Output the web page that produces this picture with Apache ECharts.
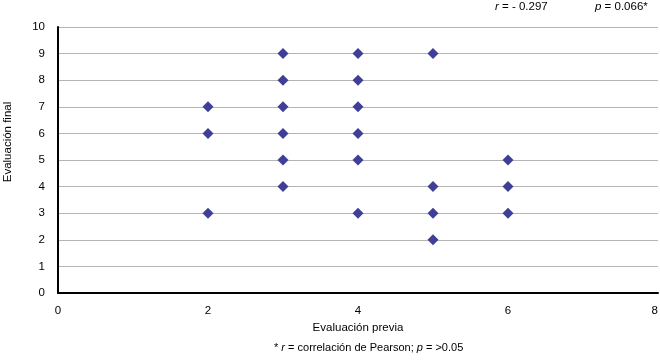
<!DOCTYPE html>
<html><head><meta charset="utf-8">
<script src="https://cdn.jsdelivr.net/npm/echarts@6/dist/echarts.min.js"></script>
<style>html,body{margin:0;padding:0;background:#fff}#c{width:660px;height:361px}</style>
</head><body><div id="c"></div>
<script>
var xValues = [2,2,2, 3,3,3,3,3,3, 4,4,4,4,4,4, 5,5,5,5, 6,6,6];
var yValues = [7,6,3, 9,8,7,6,5,4, 9,8,7,6,5,3, 9,4,3,2, 5,4,3];
var xTicks = [0,2,4,6,8];
var yTicks = [0,1,2,3,4,5,6,7,8,9,10];
var xName = 'Evaluación previa';
var yName = 'Evaluación final';

var pts = xValues.map(function(x,i){return [x,yValues[i]];});
var F = 'Liberation Sans, Arial, sans-serif';
var chart = echarts.init(document.getElementById('c'));
chart.setOption({
  animation:false,
  grid:{left:58,right:2,top:27,bottom:68,containLabel:false,outerBoundsMode:'none'},
  xAxis:{type:'value',min:0,max:8,interval:2,
    name:xName,nameLocation:'middle',nameGap:27,
    nameTextStyle:{fontFamily:F,fontSize:11.5,color:'#000'},
    axisLine:{lineStyle:{color:'#000',width:2}},
    axisTick:{show:false},splitLine:{show:false},
    axisLabel:{fontFamily:F,fontSize:11.5,color:'#000',margin:12,alignMaxLabel:'right',
      formatter:function(v){return xTicks.indexOf(v)>=0?String(v):'';}}},
  yAxis:{type:'value',min:0,max:10,interval:1,
    axisLine:{show:true,lineStyle:{color:'#000',width:2}},
    axisTick:{show:false},
    splitLine:{lineStyle:{color:'#b4b4b4',width:1}},
    axisLabel:{fontFamily:F,fontSize:11.5,color:'#000',margin:13,
      formatter:function(v){return yTicks.indexOf(v)>=0?String(v):'';}}},
  series:[{type:'scatter',data:pts,symbol:'diamond',symbolSize:11,
    itemStyle:{color:'#3f3f98',opacity:1}}],
  graphic:[
    {type:'text',x:8,y:142,rotation:Math.PI/2,style:{text:yName,fontFamily:F,fontSize:11.5,fill:'#000',align:'center',verticalAlign:'middle'}},
    {type:'text',left:495,top:1,style:{rich:{i:{fontStyle:'italic',fontFamily:F,fontSize:11.5},n:{fontFamily:F,fontSize:11.5}},text:'{i|r}{n| = - 0.297}',fill:'#000'}},
    {type:'text',left:595,top:1,style:{rich:{i:{fontStyle:'italic',fontFamily:F,fontSize:11.5},n:{fontFamily:F,fontSize:11.5}},text:'{i|p}{n| = 0.066*}',fill:'#000'}},
    {type:'text',left:274,top:342,style:{rich:{i:{fontStyle:'italic',fontFamily:F,fontSize:11},n:{fontFamily:F,fontSize:11}},text:'{n|* }{i|r}{n| = correlación de Pearson; }{i|p}{n| = >0.05}',fill:'#000'}}
  ]
});
</script></body></html>
